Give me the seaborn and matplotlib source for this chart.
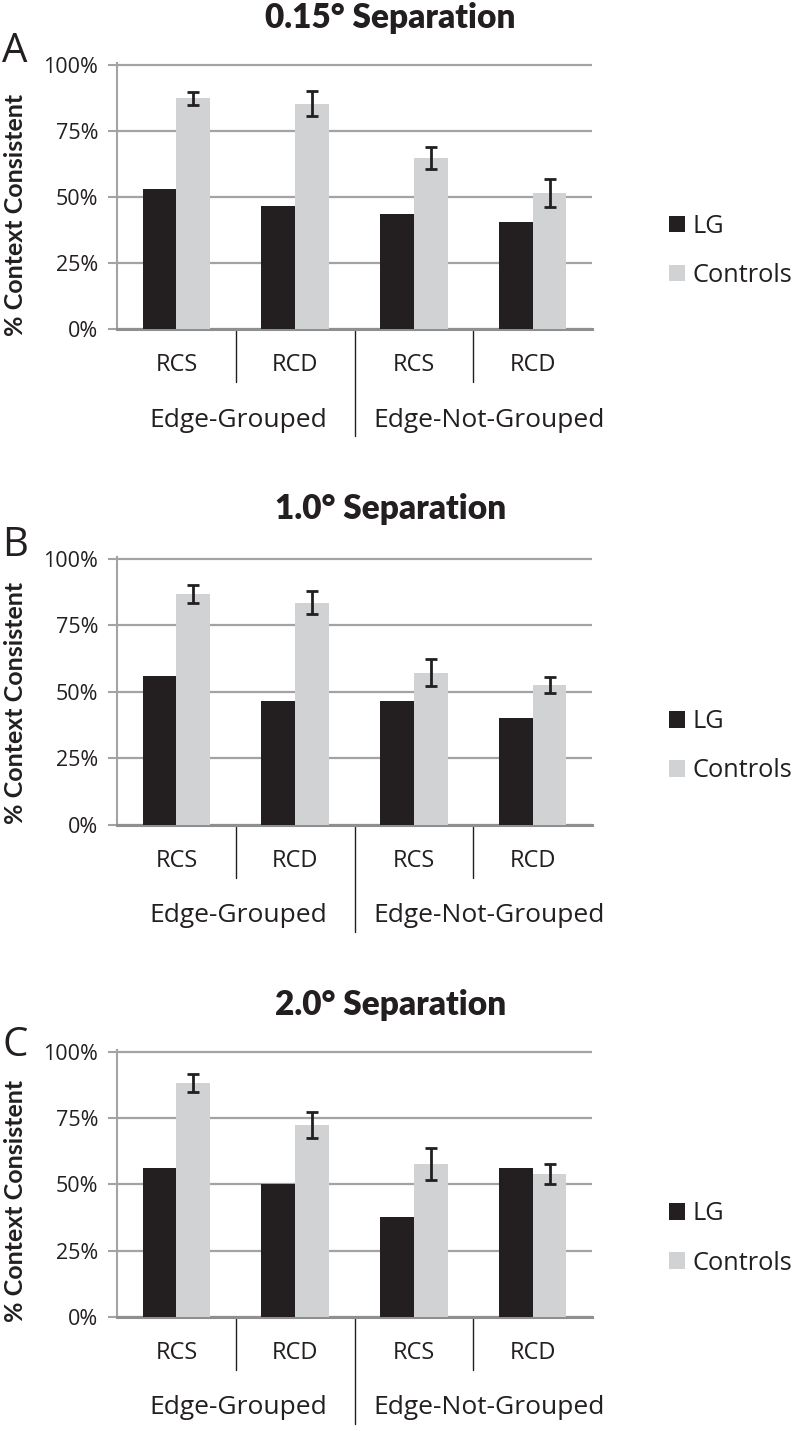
import matplotlib
matplotlib.use("Agg")
import matplotlib.pyplot as plt
import matplotlib.transforms as mtransforms
import seaborn as sns
import pandas as pd
import numpy as np

# ---------------- data ----------------
panel_letters = ["A", "B", "C"]
panel_titles = ["0.15° Separation", "1.0° Separation", "2.0° Separation"]
conditions = ["RCS", "RCD", "RCS", "RCD"]
groups = ["Edge-Grouped", "Edge-Not-Grouped"]
series_names = ["LG", "Controls"]

lg_015 = [53.0, 46.7, 43.5, 40.5]
ctrl_015 = [87.3, 85.3, 64.8, 51.4]
err_015 = [2.5, 4.8, 4.2, 5.3]

lg_10 = [56.0, 46.7, 46.7, 40.3]
ctrl_10 = [86.9, 83.6, 57.3, 52.7]
err_10 = [3.3, 4.2, 5.2, 3.0]

lg_20 = [56.2, 50.1, 37.5, 56.2]
ctrl_20 = [88.0, 72.5, 57.7, 53.8]
err_20 = [3.4, 4.9, 6.0, 3.8]

yticks = [0, 25, 50, 75, 100]
ytick_labels = ["0%", "25%", "50%", "75%", "100%"]

panels = [(lg_015, ctrl_015, err_015),
          (lg_10, ctrl_10, err_10),
          (lg_20, ctrl_20, err_20)]

# ---------------- style ----------------
sns.set_theme(style="white")
plt.rcParams["font.family"] = ["Open Sans", "DejaVu Sans"]

C_LG = "#231f20"
C_CTRL = "#d1d2d4"
C_GRID = "#a3a3a3"
C_TEXT = "#231f20"

W, H = 792, 1431
fig = plt.figure(figsize=(W / 100, H / 100), dpi=100)

# axes boxes in pixels: (left, top, right, bottom)
boxes = [(117, 63.3, 592, 329.3),
         (117, 557.3, 592, 825),
         (117, 1050, 592, 1317)]
title_y = [18, 509, 1005]
letter_y = [32, 525, 1025]
ylabel_frac = [0.43, 0.455, 0.435]

keys = [f"{g}|{c}|{i}" for i, (g, c) in enumerate(
    zip([groups[0], groups[0], groups[1], groups[1]], conditions))]

legend_kw = dict(loc="center left", bbox_to_anchor=(1.163, 0.294),
                 frameon=False, fontsize=18.3,
                 handlelength=0.62, handleheight=0.62, handletextpad=0.3,
                 labelspacing=0.95, borderpad=0, borderaxespad=0,
                 labelcolor=C_TEXT)

for p, ((lg, ctrl, err), box) in enumerate(zip(panels, boxes)):
    l, t, r, b = box
    ax = fig.add_axes([l / W, (H - b) / H, (r - l) / W, (b - t) / H])

    df = pd.DataFrame({
        "key": keys * 2,
        "value": list(lg) + list(ctrl),
        "series": [series_names[0]] * 4 + [series_names[1]] * 4,
    })
    sns.barplot(data=df, x="key", y="value", hue="series", order=keys,
                hue_order=series_names,
                palette={series_names[0]: C_LG, series_names[1]: C_CTRL},
                width=0.57, saturation=1, errorbar=None, ax=ax,
                legend=True, zorder=3, linewidth=0)

    # error bars on controls
    patches = ax.containers[1].patches
    xs = [pt.get_x() + pt.get_width() / 2 for pt in patches]
    ax.errorbar(xs, ctrl, yerr=err, fmt="none", ecolor=C_TEXT,
                elinewidth=2, capsize=4.6, capthick=2, zorder=4)

    ax.set_ylim(0, 100.6)
    ax.set_xlim(-0.5, 3.5)
    ax.set_yticks(yticks)
    ax.set_yticklabels(ytick_labels)
    ax.yaxis.grid(True, color=C_GRID, linewidth=1.6, zorder=0)
    ax.set_axisbelow(True)
    ax.tick_params(axis="y", length=6.5, width=1.5, color=C_GRID,
                   labelsize=15.5, labelcolor=C_TEXT, pad=7, left=True)
    ax.set_xticks(range(4))
    ax.set_xticklabels(conditions)
    ax.tick_params(axis="x", length=0, labelsize=17, labelcolor=C_TEXT, pad=17)
    ax.set_xlabel("")
    ax.set_ylabel("")

    for side in ["top", "right"]:
        ax.spines[side].set_visible(False)
    ax.spines["left"].set_color(C_GRID)
    ax.spines["left"].set_linewidth(1.5)
    ax.spines["bottom"].set_color("#8f8f8f")
    ax.spines["bottom"].set_linewidth(2.2)

    # category separators below the axis
    trans = mtransforms.blended_transform_factory(ax.transData, ax.transAxes)
    ph = (b - t)
    for xb, depth in [(0.5, 53), (1.5, 107), (2.5, 53)]:
        ax.plot([xb, xb], [0, -depth / ph], transform=trans, color=C_TEXT,
                linewidth=1.0, clip_on=False)
    # group labels
    for gx, gname in zip([0.52, 2.63], groups):
        ax.text(gx, -91 / ph, gname, transform=trans, ha="center", va="center",
                fontsize=19, color=C_TEXT)

    handles, labels = ax.get_legend_handles_labels()
    ax.legend(handles, labels, **legend_kw)

    # y label
    yc = b - ylabel_frac[p] * (b - t)
    fig.text(16 / W, 1 - yc / H, "% Context Consistent", rotation=90,
             ha="center", va="center", fontsize=18, fontweight="bold",
             family=["Lato", "DejaVu Sans"], color=C_TEXT)

    fig.text(0.493, 1 - title_y[p] / H, panel_titles[p], ha="center", va="center",
             fontsize=24, fontweight="heavy", family=["Lato", "DejaVu Sans"],
             color=C_TEXT)
    fig.text(0.003, 1 - letter_y[p] / H, panel_letters[p], ha="left", va="top",
             fontsize=29, color=C_TEXT)

fig.savefig("out.png", dpi=100)
